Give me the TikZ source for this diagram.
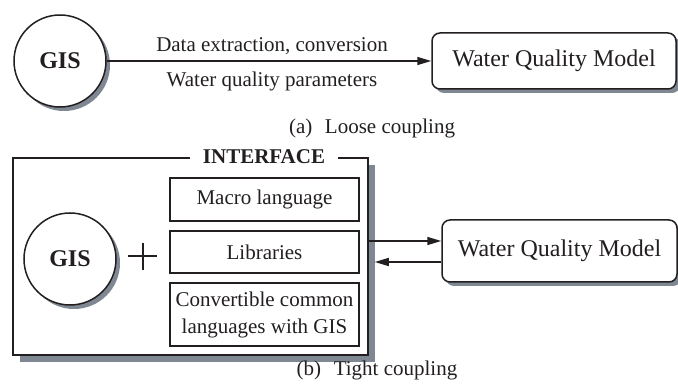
\documentclass[tikz,border=0pt]{standalone}
\usepackage{fontspec}
\setmainfont{Liberation Serif}
\usepackage{xcolor}
\usepackage{tikz}
\usetikzlibrary{calc,shadows,arrows.meta,positioning}
\definecolor{CPInk}{HTML}{231F20}
\definecolor{CPShadow}{HTML}{7F8792}

\begin{document}
\begin{tikzpicture}[x=1pt,y=-1pt,line width=1.5pt,draw=CPInk,text=CPInk,
  gis/.style={circle,draw,fill=white,minimum size=92pt,inner sep=0pt,
    font=\fontsize{24}{28}\selectfont\bfseries,
    drop shadow={shadow xshift=4pt,shadow yshift=-4pt,fill=CPShadow,opacity=1}},
  wqm/.style={draw,fill=white,rounded corners=8pt,inner sep=0pt,
    font=\fontsize{24}{28}\selectfont,
    drop shadow={shadow xshift=4pt,shadow yshift=-4pt,fill=CPShadow,opacity=1}},
  toolbox/.style={draw,fill=white,minimum width=189pt,inner sep=0pt,
    align=center,font=\fontsize{21}{27}\selectfont},
  lbl/.style={font=\fontsize{21}{25}\selectfont,inner sep=0pt},
  arr/.style={-{Triangle[length=14pt,width=8pt]}}]
\useasboundingbox (0,0) rectangle (678,387);

% loose coupling
\node[gis] (gisA) at (60,61) {GIS};
\node[wqm,minimum width=244pt,minimum height=56pt] (wqmA) at (554,61) {Water Quality Model};
\draw[arr] (gisA) -- (wqmA);
\node[lbl,anchor=base] (dataA) at (272,52) {Data extraction, conversion};
\node[lbl,anchor=base] (paramA) at (272,87) {Water quality parameters};
\node[lbl] (capA) at (372,128) {(a)\hspace{0.6em}Loose coupling};

% tight coupling
\node[draw,fill=white,minimum width=355pt,minimum height=197pt,inner sep=0pt,
  drop shadow={shadow xshift=7pt,shadow yshift=-7pt,fill=CPShadow,opacity=1}]
  (iface) at (190.5,256.5) {};
\node[fill=white,inner xsep=13pt,inner ysep=2pt,
  font=\fontsize{21}{25}\selectfont\bfseries] (ifaceLbl) at (264,157) {INTERFACE};
\node[gis] (gisB) at (70,259) {GIS};
\draw[line width=2pt] (128,256.5) -- (157,256.5) (142.5,243) -- (142.5,270);
\node[toolbox,minimum height=43pt] (macro) at (264.5,199.5) {Macro language};
\node[toolbox,minimum height=42pt] (libs) at (264.5,252) {Libraries};
\node[toolbox,minimum height=63pt] (conv) at (264.5,314.5) {Convertible common\\languages with GIS};
\node[wqm,minimum width=235pt,minimum height=62pt] (wqmB) at (559.5,251) {Water Quality Model};
\draw[arr] ($(iface.east |- wqmB.west)+(0,-10)$) -- ($(wqmB.west)+(0,-10)$);
\draw[arr] ($(wqmB.west)+(0,11)$) -- ($(iface.east |- wqmB.west)+(6,11)$);
\node[lbl] (capB) at (377,370) {(b)\hspace{0.6em}Tight coupling};
\end{tikzpicture}
\end{document}
